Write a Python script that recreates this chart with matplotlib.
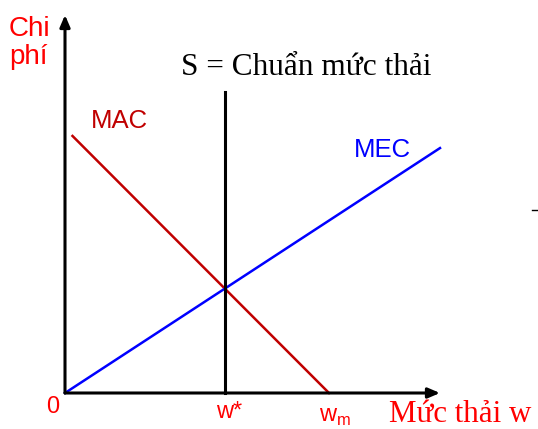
import matplotlib
matplotlib.use("Agg")
import matplotlib.pyplot as plt
from matplotlib.lines import Line2D

# emission levels and costs (arbitrary units, axis tips at 10)
w_star = 4.27
w_m = 7.04
mac_w = [0.2, w_m]
mac_cost = [6.8, 0.0]
mec_w = [0.0, 10.0]
mec_cost = [0.0, 6.48]
s_cost = [0.0, 7.95]

RED = "#ff0000"
DARKRED = "#c00000"
BLUE = "#0000ff"

W, H = 538, 429

fig = plt.figure(figsize=(W / 100, H / 100), dpi=100)
ax = fig.add_axes([65 / W, 36 / H, 375 / W, 378 / H])
ax.set_xlim(0, 10)
ax.set_ylim(0, 10)
ax.axis("off")

# axes with arrow heads
arrow = dict(arrowstyle="-|>,head_length=0.7,head_width=0.3", lw=2.2, color="black",
             shrinkA=0, shrinkB=0)
ax.annotate("", xy=(10, 0), xytext=(0, 0), arrowprops=arrow, annotation_clip=False)
ax.annotate("", xy=(0, 10), xytext=(0, 0), arrowprops=arrow, annotation_clip=False)

# curves
ax.plot(mac_w, mac_cost, color=DARKRED, lw=1.8, clip_on=False)
ax.plot(mec_w, mec_cost, color=BLUE, lw=1.8, clip_on=False)
ax.plot([w_star, w_star], s_cost, color="black", lw=2.2, clip_on=False)


def label(x, y, s, **kw):
    # x, y in pixels from the top-left, y is the text baseline
    fig.text(x / W, 1 - y / H, s, va="baseline", **kw)


serif = "Liberation Serif"
sans = "Liberation Sans"
label(9, 36, "Chi", color=RED, fontsize=20, family=sans)
label(9, 64, "phí", color=RED, fontsize=20, family=sans)
label(306, 75, "S = Chuẩn mức thải", color="black", fontsize=22.5, family=serif, ha="center")
label(91, 128, "MAC", color=DARKRED, fontsize=18.5, family=sans)
label(354, 157, "MEC", color=BLUE, fontsize=18.5, family=sans)
label(46, 413, "0", color=RED, fontsize=17, family=sans)
label(216, 418, "w*", color=RED, fontsize=17, family=sans)
label(319, 422, r"w$_{\mathregular{m}}$", color=RED, fontsize=17, family=sans)
label(389, 422, "Mức thải w", color=RED, fontsize=22.3, family=serif)

# small stray dash at right edge
fig.lines.append(Line2D([532 / W, 1], [1 - 210 / H, 1 - 210 / H],
                        transform=fig.transFigure, color="black", lw=1))

fig.savefig("out.png", dpi=100)
